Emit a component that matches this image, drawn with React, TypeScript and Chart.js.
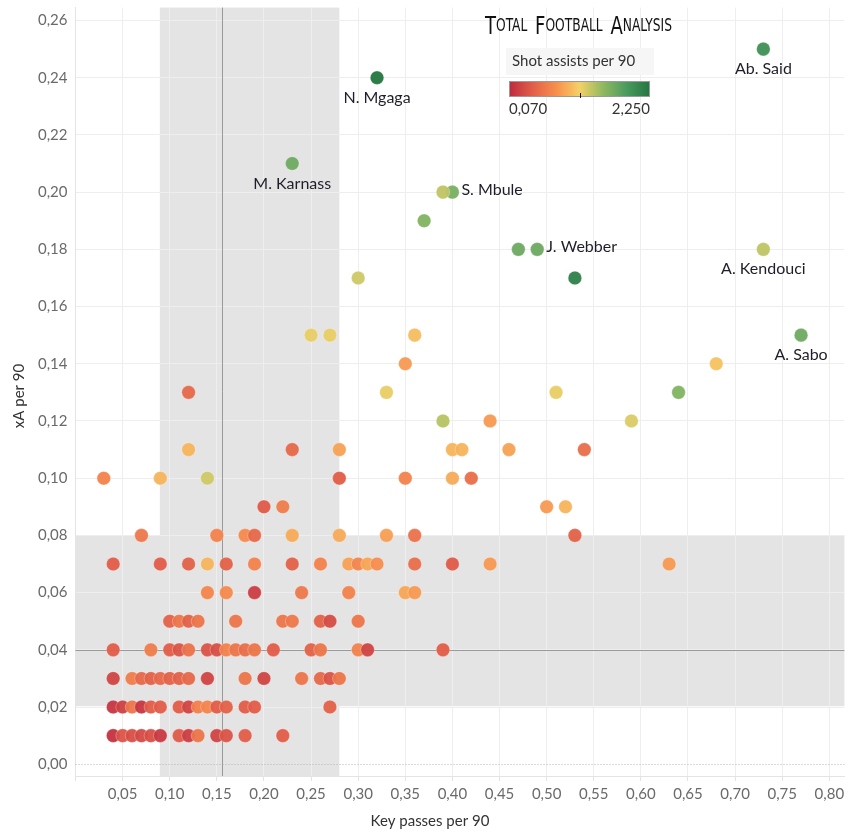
import { useEffect, useRef } from 'react';
import { Chart, registerables } from 'chart.js';

Chart.register(...registerables);

// ---------- data ----------
const keyPasses = [
  0.04, 0.05, 0.06, 0.07, 0.08, 0.09, 0.11, 0.12, 0.13, 0.15, 0.16, 0.18, 0.22,
  0.04, 0.05, 0.06, 0.07, 0.08, 0.09, 0.11, 0.12, 0.13, 0.14, 0.15, 0.16, 0.18, 0.19, 0.27,
  0.04, 0.06, 0.07, 0.08, 0.09, 0.10, 0.11, 0.12, 0.14, 0.18, 0.20, 0.24, 0.26, 0.27, 0.28,
  0.04, 0.08, 0.10, 0.11, 0.12, 0.14, 0.15, 0.16, 0.17, 0.18, 0.19, 0.21, 0.25, 0.26, 0.30, 0.31, 0.39,
  0.10, 0.11, 0.12, 0.13, 0.17, 0.22, 0.23, 0.26, 0.27, 0.30,
  0.14, 0.16, 0.19, 0.24, 0.29, 0.35, 0.36,
  0.04, 0.09, 0.12, 0.14, 0.16, 0.19, 0.23, 0.26, 0.29, 0.30, 0.31, 0.32, 0.36, 0.40, 0.44, 0.63,
  0.07, 0.15, 0.18, 0.19, 0.23, 0.28, 0.33, 0.36, 0.53,
  0.20, 0.22, 0.50, 0.52,
  0.03, 0.09, 0.14, 0.28, 0.35, 0.40, 0.42,
  0.12, 0.23, 0.28, 0.40, 0.41, 0.46, 0.54,
  0.39, 0.44, 0.59,
  0.12, 0.33, 0.51, 0.64,
  0.35, 0.68,
  0.25, 0.27, 0.36,
  0.30, 0.53,
  0.47,
  0.37,
  0.39,
];

const xaPer90 = [
  0.01, 0.01, 0.01, 0.01, 0.01, 0.01, 0.01, 0.01, 0.01, 0.01, 0.01, 0.01, 0.01,
  0.02, 0.02, 0.02, 0.02, 0.02, 0.02, 0.02, 0.02, 0.02, 0.02, 0.02, 0.02, 0.02, 0.02, 0.02,
  0.03, 0.03, 0.03, 0.03, 0.03, 0.03, 0.03, 0.03, 0.03, 0.03, 0.03, 0.03, 0.03, 0.03, 0.03,
  0.04, 0.04, 0.04, 0.04, 0.04, 0.04, 0.04, 0.04, 0.04, 0.04, 0.04, 0.04, 0.04, 0.04, 0.04, 0.04, 0.04,
  0.05, 0.05, 0.05, 0.05, 0.05, 0.05, 0.05, 0.05, 0.05, 0.05,
  0.06, 0.06, 0.06, 0.06, 0.06, 0.06, 0.06,
  0.07, 0.07, 0.07, 0.07, 0.07, 0.07, 0.07, 0.07, 0.07, 0.07, 0.07, 0.07, 0.07, 0.07, 0.07, 0.07,
  0.08, 0.08, 0.08, 0.08, 0.08, 0.08, 0.08, 0.08, 0.08,
  0.09, 0.09, 0.09, 0.09,
  0.10, 0.10, 0.10, 0.10, 0.10, 0.10, 0.10,
  0.11, 0.11, 0.11, 0.11, 0.11, 0.11, 0.11,
  0.12, 0.12, 0.12,
  0.13, 0.13, 0.13, 0.13,
  0.14, 0.14,
  0.15, 0.15, 0.15,
  0.17, 0.17,
  0.18,
  0.19,
  0.20,
];

const shotAssists = [
  0.12, 0.35, 0.32, 0.28, 0.32, 0.18, 0.40, 0.20, 0.60, 0.25, 0.35, 0.42, 0.42,
  0.15, 0.22, 0.60, 0.15, 0.42, 0.42, 0.42, 0.25, 0.68, 0.72, 0.42, 0.45, 0.42, 0.42, 0.45,
  0.25, 0.65, 0.50, 0.45, 0.50, 0.45, 0.45, 0.50, 0.25, 0.60, 0.25, 0.60, 0.50, 0.35, 0.60,
  0.42, 0.65, 0.42, 0.35, 0.58, 0.35, 0.32, 0.70, 0.60, 0.55, 0.60, 0.42, 0.45, 0.60, 0.70, 0.25, 0.42,
  0.45, 0.60, 0.45, 0.60, 0.60, 0.60, 0.62, 0.45, 0.30, 0.60,
  0.72, 0.75, 0.20, 0.62, 0.70, 0.92, 0.85,
  0.42, 0.42, 0.45, 1.00, 0.45, 0.70, 0.45, 0.70, 0.90, 0.72, 0.92, 0.78, 0.55, 0.40, 0.85, 0.85,
  0.62, 0.70, 0.75, 0.50, 0.95, 0.95, 0.88, 0.58, 0.45,
  0.40, 0.65, 0.85, 1.00,
  0.70, 1.00, 1.30, 0.42, 0.70, 0.95, 0.55,
  1.00, 0.50, 0.90, 1.00, 1.00, 0.90, 0.55,
  1.38, 0.85, 1.25,
  0.50, 1.20, 1.20, 1.60,
  0.85, 1.08,
  1.20, 1.20, 1.05,
  1.30, 2.15,
  1.72,
  1.60,
  1.35,
];

const namedPlayers = ['N. Mgaga', 'Ab. Said', 'M. Karnass', 'S. Mbule', 'J. Webber', 'A. Kendouci', 'A. Sabo'];
const namedKeyPasses = [0.32, 0.73, 0.23, 0.40, 0.49, 0.73, 0.77];
const namedXA = [0.24, 0.25, 0.21, 0.20, 0.18, 0.18, 0.15];
const namedShotAssists = [2.25, 2.0, 1.7, 1.65, 1.72, 1.35, 1.7];
const namedLabelSide = ['below', 'below', 'below', 'right', 'right', 'below', 'below'];

const X_MIN = 0;
const X_MAX = 0.816;
const Y_MIN = -0.0041;
const Y_MAX = 0.2645;
const X_STEP = 0.05;
const Y_STEP = 0.02;

const KP_BAND = [0.0895, 0.28];
const XA_BAND = [0.0203, 0.0801];
const KP_REF = 0.1558;
const XA_REF = 0.04;

const SA_MIN = 0.07;
const SA_MAX = 2.25;
const SA_MIN_LABEL = '0,070';
const SA_MAX_LABEL = '2,250';
const LEGEND_TITLE = 'Shot assists per 90';
const X_TITLE = 'Key passes per 90';
const Y_TITLE = 'xA per 90';

const PALETTE = ['#be2a3e', '#e25f48', '#f88f4d', '#f4d166', '#90b960', '#4b9b5f', '#22763f'];

const FONT = '"Lato", "Open Sans", sans-serif';

function hexToRgb(h: string) {
  const n = parseInt(h.slice(1), 16);
  return [(n >> 16) & 255, (n >> 8) & 255, n & 255];
}

function saColor(v: number, alpha = 0.95) {
  let t = (v - SA_MIN) / (SA_MAX - SA_MIN);
  t = Math.max(0, Math.min(1, t)) * (PALETTE.length - 1);
  const i = Math.min(PALETTE.length - 2, Math.floor(t));
  const f = t - i;
  const a = hexToRgb(PALETTE[i]);
  const b = hexToRgb(PALETTE[i + 1]);
  const c = a.map((x, k) => Math.round(x + (b[k] - x) * f));
  return `rgba(${c[0]},${c[1]},${c[2]},${alpha})`;
}

const fmt = (v: number) => v.toFixed(2).replace('.', ',');

const decorPlugin = {
  id: 'decor',
  beforeDraw(chart: any) {
    const { ctx, chartArea: a, scales } = chart;
    const x = scales.x;
    const y = scales.y;
    ctx.save();
    ctx.fillStyle = '#e4e4e4';
    const x0 = x.getPixelForValue(KP_BAND[0]);
    const x1 = x.getPixelForValue(KP_BAND[1]);
    ctx.fillRect(x0, a.top, x1 - x0, a.bottom - a.top);
    const y0 = y.getPixelForValue(XA_BAND[1]);
    const y1 = y.getPixelForValue(XA_BAND[0]);
    ctx.fillRect(a.left, y0, a.right - a.left, y1 - y0);
    ctx.restore();
  },
  beforeDatasetsDraw(chart: any) {
    const { ctx, chartArea: a, scales } = chart;
    const x = scales.x;
    const y = scales.y;
    ctx.save();
    const yz = Math.round(y.getPixelForValue(0)) + 0.5;
    ctx.strokeStyle = '#b5b5b5';
    ctx.lineWidth = 1;
    ctx.setLineDash([1, 2]);
    ctx.beginPath();
    ctx.moveTo(a.left, yz);
    ctx.lineTo(a.right, yz);
    ctx.stroke();
    ctx.setLineDash([]);
    ctx.strokeStyle = '#9a9a9a';
    const xr = Math.round(x.getPixelForValue(KP_REF)) + 0.5;
    ctx.beginPath();
    ctx.moveTo(xr, a.top);
    ctx.lineTo(xr, a.bottom);
    ctx.stroke();
    const yr = Math.round(y.getPixelForValue(XA_REF)) + 0.5;
    ctx.beginPath();
    ctx.moveTo(a.left, yr);
    ctx.lineTo(a.right, yr);
    ctx.stroke();
    ctx.restore();
  },
  afterDraw(chart: any) {
    const { ctx } = chart;
    ctx.save();
    const meta = chart.getDatasetMeta(1);
    ctx.font = `16px ${FONT}`;
    ctx.fillStyle = '#1e1e2a';
    ctx.textBaseline = 'middle';
    namedPlayers.forEach((name, i) => {
      const el = meta.data[i];
      if (!el) return;
      if (namedLabelSide[i] === 'right') {
        ctx.textAlign = 'left';
        ctx.fillText(name, el.x + 9, el.y - 2);
      } else {
        ctx.textAlign = 'center';
        ctx.fillText(name, el.x, el.y + 20);
      }
    });

    ctx.fillStyle = '#333333';
    ctx.font = `15px ${FONT}`;
    ctx.textAlign = 'center';
    ctx.fillText(X_TITLE, 430, 821);
    ctx.save();
    ctx.translate(19, 396);
    ctx.rotate(-Math.PI / 2);
    ctx.fillText(Y_TITLE, 0, 0);
    ctx.restore();

    ctx.fillStyle = '#f6f6f6';
    ctx.fillRect(506, 48, 148, 27);
    ctx.fillStyle = '#333333';
    ctx.textAlign = 'left';
    ctx.font = `15px ${FONT}`;
    ctx.fillText(LEGEND_TITLE, 512, 61);
    const gx = 509.5;
    const gw = 140;
    const grad = ctx.createLinearGradient(gx, 0, gx + gw, 0);
    PALETTE.forEach((c, i) => grad.addColorStop(i / (PALETTE.length - 1), c));
    ctx.fillStyle = grad;
    ctx.fillRect(gx, 81.5, gw, 15);
    ctx.strokeStyle = '#9a9a9a';
    ctx.lineWidth = 1;
    ctx.strokeRect(gx, 81.5, gw, 15);
    ctx.strokeStyle = '#111';
    ctx.beginPath();
    ctx.moveTo(580.5, 93);
    ctx.lineTo(580.5, 98);
    ctx.stroke();
    ctx.fillStyle = '#333333';
    ctx.fillText(SA_MIN_LABEL, 509, 109);
    ctx.textAlign = 'right';
    ctx.fillText(SA_MAX_LABEL, 650, 109);

    const segs: [string, number][] = [
      ['T', 25], ['OTAL  ', 17], ['F', 25], ['OOTBALL  ', 17], ['A', 25], ['NALYSIS', 17],
    ];
    const lf = '"Liberation Sans Narrow", "DejaVu Sans Condensed", sans-serif';
    let total = 0;
    segs.forEach(([s, sz]) => {
      ctx.font = `${sz}px ${lf}`;
      total += ctx.measureText(s).width;
    });
    const sx = 187 / total;
    ctx.save();
    ctx.translate(485, 31);
    ctx.scale(sx, 1);
    ctx.fillStyle = '#111111';
    ctx.textAlign = 'left';
    ctx.textBaseline = 'alphabetic';
    let cx = 0;
    segs.forEach(([s, sz]) => {
      ctx.font = `${sz}px ${lf}`;
      ctx.fillText(s, cx, sz > 20 ? 3 : 0);
      cx += ctx.measureText(s).width;
    });
    ctx.restore();

    ctx.restore();
  },
};

export default function App() {
  const ref = useRef<HTMLCanvasElement | null>(null);

  useEffect(() => {
    document.body.style.margin = '0';
    const canvas = ref.current;
    if (!canvas) return;
    const chart = new Chart(canvas, {
      type: 'scatter',
      data: {
        datasets: [
          {
            data: keyPasses.map((k, i) => ({ x: k, y: xaPer90[i] })),
            backgroundColor: shotAssists.map((v) => saColor(v)),
            borderColor: 'rgba(255,255,255,0.35)',
            borderWidth: 0.8,
            pointRadius: 6.8,
          },
          {
            data: namedKeyPasses.map((k, i) => ({ x: k, y: namedXA[i] })),
            backgroundColor: namedShotAssists.map((v) => saColor(v)),
            borderColor: 'rgba(255,255,255,0.35)',
            borderWidth: 0.8,
            pointRadius: 6.8,
          },
        ],
      },
      options: {
        animation: false,
        responsive: true,
        maintainAspectRatio: false,
        events: [],
        layout: { padding: { top: 3, right: 5, left: 0, bottom: 0 } },
        plugins: { legend: { display: false }, tooltip: { enabled: false }, title: { display: false } },
        scales: {
          x: {
            type: 'linear',
            min: X_MIN,
            max: X_MAX,
            afterFit: (s: any) => {
              s.height = 63;
              s.paddingLeft = 0;
              s.paddingRight = 0;
            },
            grid: {
              color: '#eeeeee',
              tickColor: '#e4e4e4',
              tickLength: 5,
              drawTicks: true,
            },
            border: { color: '#e4e4e4' },
            ticks: {
              stepSize: X_STEP,
              includeBounds: false,
              autoSkip: false,
              maxRotation: 0,
              padding: 4,
              color: '#6a6a6a',
              font: { family: FONT, size: 15 },
              callback: (v: any) => (Math.abs(Number(v)) < 1e-9 ? '' : fmt(Number(v))),
            },
          },
          y: {
            type: 'linear',
            min: Y_MIN,
            max: Y_MAX,
            afterFit: (s: any) => {
              s.width = 75.5;
              s.paddingTop = 0;
              s.paddingBottom = 0;
            },
            grid: {
              color: (c: any) => (c.tick && Math.abs(c.tick.value) < 1e-9 ? 'rgba(0,0,0,0)' : '#eeeeee'),
              drawTicks: false,
            },
            border: { color: '#e4e4e4' },
            ticks: {
              stepSize: Y_STEP,
              includeBounds: false,
              autoSkip: false,
              padding: 8,
              color: '#6a6a6a',
              font: { family: FONT, size: 15 },
              callback: (v: any) => fmt(Number(v)),
            },
          },
        },
      },
      plugins: [decorPlugin],
    } as any);
    return () => chart.destroy();
  }, []);

  return (
    <div style={{ position: 'absolute', left: 0, top: 0, width: 852, height: 839 }}>
      <canvas ref={ref} />
    </div>
  );
}
